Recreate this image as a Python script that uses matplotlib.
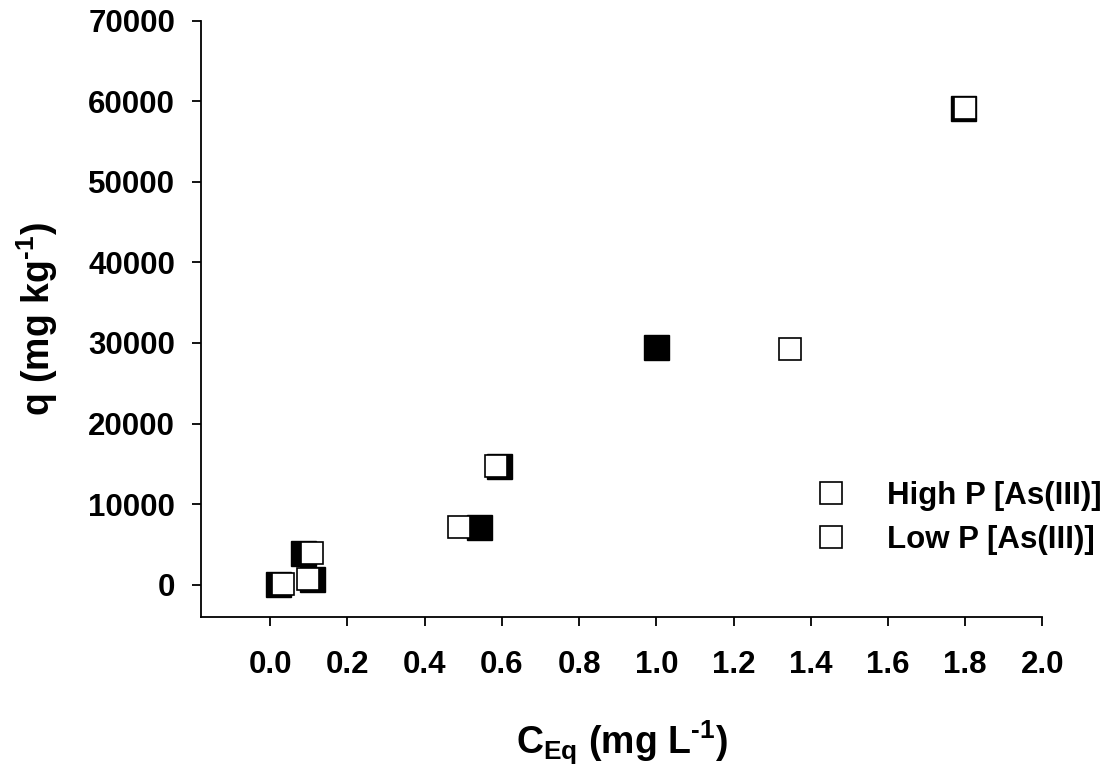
import matplotlib
matplotlib.use("Agg")
import matplotlib.pyplot as plt
from matplotlib.lines import Line2D

# equilibrium concentration (mg/L) and sorbed amount (mg/kg)
high_x = [0.019, 0.084, 0.107, 0.54, 0.593, 0.998, 1.794]
high_y = [50, 3920, 690, 7220, 14750, 29500, 59130]
low_x = [0.034, 0.109, 0.098, 0.489, 0.584, 1.347, 1.80]
low_y = [50, 3920, 690, 7220, 14750, 29300, 59130]

series_labels = ["High P [As(III)]", "Low P [As(III)]"]
x_ticks = [0.0, 0.2, 0.4, 0.6, 0.8, 1.0, 1.2, 1.4, 1.6, 1.8, 2.0]
y_ticks = [0, 10000, 20000, 30000, 40000, 50000, 60000, 70000]

plt.rcParams["font.family"] = "Liberation Sans"
plt.rcParams["font.weight"] = "bold"
plt.rcParams["mathtext.fontset"] = "custom"
plt.rcParams["mathtext.rm"] = "Liberation Sans:bold"
plt.rcParams["mathtext.it"] = "Liberation Sans:bold"
plt.rcParams["mathtext.bf"] = "Liberation Sans:bold"

fig = plt.figure(figsize=(11.2, 7.65), dpi=100)
ax = fig.add_axes([0.1792, 0.1935, 0.7516, 0.7795])

ax.plot(high_x, high_y, linestyle="none", marker="s", markersize=18,
        markerfacecolor="black", markeredgecolor="black", zorder=3)
ax.plot(low_x, low_y, linestyle="none", marker="s", markersize=15.5,
        markerfacecolor="white", markeredgecolor="black",
        markeredgewidth=1.2, zorder=4)

ax.set_xlim(-0.18, 2.0)
ax.set_ylim(-4000, 70000)
ax.set_xticks(x_ticks)
ax.set_xticklabels([f"{v:.1f}" for v in x_ticks])
ax.set_yticks(y_ticks)
ax.set_yticklabels([str(v) for v in y_ticks])

for s in ["top", "right"]:
    ax.spines[s].set_visible(False)
for s in ["left", "bottom"]:
    ax.spines[s].set_linewidth(1.3)

ax.tick_params(axis="both", direction="out", length=6.5, width=1.3,
               labelsize=22.5)
ax.tick_params(axis="x", pad=17)
ax.tick_params(axis="y", pad=12)

ax.set_xlabel(r"C$_{\mathbf{Eq}}$ (mg L$^{\text{-1}}$)", fontsize=27,
              fontweight="bold", labelpad=28)
ax.set_ylabel(r"q (mg kg$^{\text{-1}}$)", fontsize=27,
              fontweight="bold", labelpad=20)

handles = [Line2D([], [], linestyle="none", marker="s", markersize=16,
                  markerfacecolor="white", markeredgecolor="black",
                  markeredgewidth=1.2) for _ in series_labels]
ax.legend(handles, series_labels, loc="upper left",
          bbox_to_anchor=(0.714, 0.392), bbox_transform=fig.transFigure,
          frameon=False, fontsize=22.5, borderpad=0, handlelength=1.0,
          handletextpad=1.3, labelspacing=0.45)

fig.savefig("out.png", dpi=100)
